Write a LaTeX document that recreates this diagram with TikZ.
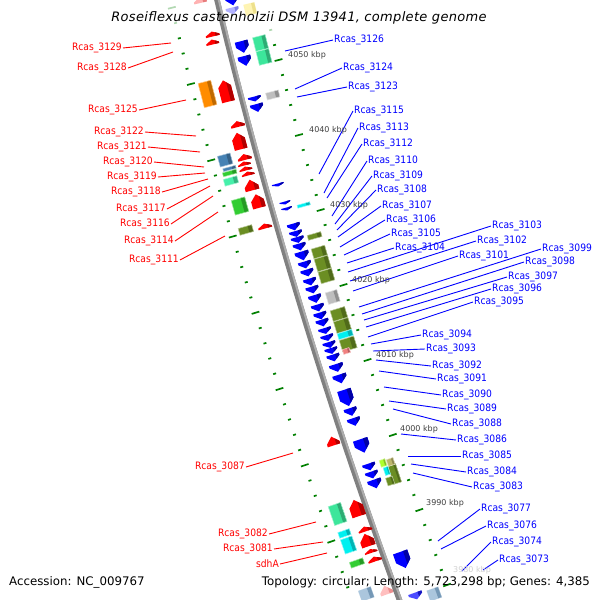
\documentclass[tikz,border=0pt]{standalone}
\usepackage{fontspec}
\setmainfont{DejaVu Sans}
\newfontfamily\lblfont{DejaVu Sans Condensed}
\usetikzlibrary{calc}

\definecolor{tkgreen}{RGB}{0,128,0}
\definecolor{spring}{RGB}{60,230,155}
\definecolor{aqua}{RGB}{70,240,170}
\definecolor{lime}{RGB}{50,205,50}
\definecolor{steel}{RGB}{70,130,180}
\definecolor{odrab}{RGB}{107,142,35}
\definecolor{gorange}{RGB}{255,140,0}
\definecolor{lgray}{RGB}{190,190,190}
\definecolor{gcyan}{RGB}{0,240,240}
\definecolor{salm}{RGB}{240,128,128}
\definecolor{ygreen}{RGB}{173,255,47}
\definecolor{gkhaki}{RGB}{189,183,107}
\definecolor{kbpgray}{RGB}{64,64,64}

\tikzset{
  pics/fwd/.style n args={3}{code={
    \pgfmathsetmacro\rh{min(0.5*#1,0.7*#2)}
    \fill[#3] (-#1/2,#2/2) -- (-#1/2,-#2/2+\rh) -- (0,-#2/2) -- (#1/2,-#2/2+\rh) -- (#1/2,#2/2) -- cycle;
    \fill[#3!70!black] (#1/5,#2/2) -- (#1/5,-#2/2+\rh*0.4) -- (#1/2,-#2/2+\rh) -- (#1/2,#2/2) -- cycle;
  }},
  pics/rev/.style n args={3}{code={
    \pgfmathsetmacro\rh{min(0.5*#1,0.7*#2)}
    \fill[#3] (-#1/2,-#2/2) -- (-#1/2,#2/2-\rh) -- (0,#2/2) -- (#1/2,#2/2-\rh) -- (#1/2,-#2/2) -- cycle;
    \fill[#3!65!black] (#1/5,-#2/2) -- (#1/5,#2/2-\rh*0.4) -- (#1/2,#2/2-\rh) -- (#1/2,-#2/2) -- cycle;
  }},
  pics/box/.style n args={3}{code={
    \fill[#3] (-#1/2,-#2/2) rectangle (#1/2,#2/2);
    \fill[#3!75!black] (#1/5,-#2/2) rectangle (#1/2,#2/2);
    \draw[#3!45!white,line width=0.5pt] (-#1/2,-#2/2) rectangle (#1/2,#2/2);
  }}
}

\newcommand\gene[7][]{%
  \pgfmathsetmacro\gx{217+0.24*(#3)+0.0001*(#3)*(#3)+(#4)}%
  \pgfmathsetmacro\ga{atan(0.24+0.0002*(#3))}%
  \pic[rotate=\ga,#1] at (\gx,#3) {#2={#5}{#6}{#7}};}
\newcommand\tick[4][]{%
  \pgfmathsetmacro\tx{217+0.24*(#2)+0.0001*(#2)*(#2)+(#3)}%
  \pgfmathsetmacro\ta{atan(0.24+0.0002*(#2))}%
  \draw[tk,#1,rotate around={\ta:(\tx,#2)}] (\tx-#4/2,#2) -- (\tx+#4/2,#2);}

\begin{document}
\begin{tikzpicture}[x=1pt,y=-1pt,
  tk/.style={tkgreen,line width=1.7pt},
  rl/.style={font=\lblfont\fontsize{10.2}{12}\selectfont,text=red,anchor=east,inner sep=1pt},
  bl/.style={font=\lblfont\fontsize{10.2}{12}\selectfont,text=blue,anchor=west,inner sep=1pt},
  rline/.style={red,line width=0.9pt},
  bline/.style={blue,line width=0.9pt},
  kbp/.style={font=\fontsize{8}{9}\selectfont,text=kbpgray,anchor=west,inner sep=0pt}]
\clip (0,0) rectangle (600,600);
\fill[white] (0,0) rectangle (600,600);

\foreach \k in {-5,...,34}{
  \pgfmathsetmacro\ty{84+15.25*\k}
  \pgfmathtruncatemacro\m{mod(\k+50,5)}
  \pgfmathsetmacro\op{\ty<30 ? 0.3 : 1}
  \ifnum\m=0 \tick[opacity=\op]{\ty}{-47}{8}\else\tick[opacity=\op]{\ty}{-47}{3}\fi
}
\foreach \k in {-2,...,35}{
  \pgfmathsetmacro\ty{60+15*\k}
  \pgfmathsetmacro\tdx{46+0.012*\ty}
  \pgfmathtruncatemacro\m{mod(\k+50,5)}
  \pgfmathsetmacro\op{\ty<35 ? 0.3 : 1}
  \ifnum\m=0 \tick[opacity=\op]{\ty}{\tdx}{8}\else\tick[opacity=\op]{\ty}{\tdx}{3}\fi
}

\draw[line width=5.5pt,black!50] plot[domain=-5:605,samples=40,variable=\t] ({217+0.24*\t+0.0001*\t*\t},\t);
\draw[line width=2pt,black!32] plot[domain=-5:605,samples=40,variable=\t] ({218.8+0.24*\t+0.0001*\t*\t},\t);

\gene[opacity=0.3]{fwd}{0}{-17}{13}{6}{red}
\gene{rev}{1}{15}{13}{9}{blue}
\gene[opacity=0.3]{rev}{11}{13}{13}{7}{blue}
\gene[opacity=0.3]{box}{9}{31}{11}{11}{yellow!80!orange}
\gene[opacity=0.45]{box}{594}{-31}{13}{11}{steel}
\gene[opacity=0.25]{fwd}{590}{-10}{13}{9}{red}
\gene[opacity=0.7]{rev}{596}{18}{14}{7}{blue}
\gene[opacity=0.45]{box}{594}{37}{12}{11}{steel}

\foreach \y/\d/\w/\l in {34/-13/14/5, 42/-15/13/5, 91/-14/13/22, 124/-11/14/6, 141/-14/13/17,
  157/-13/14/6, 163.5/-15/13/4, 168.5/-15/13/4, 173.5/-14/13/4, 185/-14/14/11, 201/-12/13/14,
  226/-12/14/5, 441/-11/13/9, 508/-10/14/17, 529/-9/14/5, 540/-11/14/13, 551/-11/13/4, 559/-10/14/5}
  \gene{fwd}{\y}{\d}{\w}{\l}{red};

\foreach \y/\d/\w/\l/\c in {94/-33/13/25/gorange, 160/-33/13/11/steel, 168.5/-31/13/3/steel,
  173/-32/14/4/lime, 181/-33/14/7/aqua, 206/-31/14/15/lime, 230/-32/14/7/odrab,
  514/-31/13/20/spring, 533.5/-31/12/6/gcyan, 545/-31/12/15/gcyan, 563/-29/14/6/lime,
  43/33/13/14/spring, 57/33/13/14/spring, 95/32/13/7/lgray, 205/33/13/3/gcyan, 236/35/14/5/odrab,
  252/35/14/10/odrab, 263.5/35/14/13/odrab, 276/35/14/12/odrab, 297/35/12/12/lgray,
  314/36/15/11/odrab, 325.5/36/15/12/odrab, 334.5/36/15/6/gcyan, 344/36/15/12/odrab, 351/32/7/5/salm,
  474/40/8/19/odrab, 481/33/7/8/odrab, 471/33/5/8/gcyan, 463/32/6/7/ygreen, 462/40/7/7/gkhaki}
  \gene{box}{\y}{\d}{\w}{\l}{\c};

\foreach \y/\d/\w/\l in {47/14/13/12, 61/13/13/10, 99/13/13/5, 108/13/13/8, 185/13/12/3,
  203/15/11/3, 209/15/11/3, 560/18/15/17}
  \gene{rev}{\y}{\d}{\w}{\l}{blue};
\foreach \y/\w/\l in {227/13/7, 234/13/6, 240/13/6, 247/13/7, 256/14/9, 265/13/7, 273/13/7,
  282/13/7, 290/13/7, 299/13/8, 308/13/7, 316/13/7, 323/13/7, 331/13/6, 338/13/6, 345/13/6,
  351/13/6, 358/13/7, 368/14/8, 379/14/9, 398/14/17, 412/13/8, 422/13/8, 446/15/14, 467/13/7,
  475/13/7, 484/14/9}
  \gene{rev}{\y}{17}{\w}{\l}{blue};

\foreach \n/\lx/\ly/\ex/\ey in {3129/123/48/171/43, 3128/128/68/173/52, 3125/139/110/186/100,
  3122/145/132/196/136, 3121/148/147/200/152, 3120/154/162/204/167, 3119/158/177/205/173,
  3118/162/192/208/179, 3117/167/209/210/186, 3116/171/224/213/196, 3114/175/241/218/212,
  3111/180/260/225/236, 3087/246/467/293/453, 3082/269/534/316/522, 3081/274/549/323/542}{
  \node[rl] (r\n) at (\lx,\ly) {Rcas\_\n};
  \coordinate (er\n) at (\ex,\ey);
  \draw[rline] (r\n.east) -- (er\n);
}
\node[rl] (rsdhA) at (280,564) {sdhA};
\coordinate (ersdhA) at (327,553);
\draw[rline] (rsdhA.east) -- (ersdhA);

\foreach \n/\lx/\ly/\ex/\ey in {3126/333/40/285/51, 3124/342/68/295/89, 3123/347/87/297/97,
  3115/353/111/319/174, 3113/358/128/324/193, 3112/362/144/327/198, 3110/367/161/332/216,
  3109/372/176/335/224, 3108/376/190/337/230, 3107/381/206/338/237, 3106/385/220/340/247,
  3105/390/234/344/255, 3104/394/248/347/263, 3103/491/226/348/272, 3102/476/241/350/281,
  3101/458/256/353/291, 3099/541/249/359/307, 3098/524/262/362/314, 3097/507/277/364/320,
  3096/491/289/366/327, 3095/473/302/368/337, 3094/421/335/371/344, 3093/425/349/373/351,
  3092/431/366/376/360, 3091/436/379/379/371, 3090/441/395/384/387, 3089/446/409/389/401,
  3088/451/424/393/409, 3086/456/440/401/434, 3085/461/456/408/456, 3084/466/472/411/464,
  3083/472/487/413/473, 3077/480/509/438/541, 3076/486/526/441/549, 3074/491/542/462/571,
  3073/498/560/483/570}{
  \node[bl] (b\n) at (\lx,\ly) {Rcas\_\n};
  \coordinate (eb\n) at (\ex,\ey);
  \draw[bline] (b\n.west) -- (eb\n);
}

\foreach \t/\x/\y in {4050/288/55, 4040/309/130, 4030/330/205, 4020/352/280, 4010/376/355,
  4000/400/429, 3990/426/503}
  \node[kbp] (k\t) at (\x,\y) {\t{} kbp};
\node[kbp,text=black!18] (k3980) at (453,570) {3980 kbp};

\node[font=\fontsize{13}{15}\selectfont\itshape\addfontfeatures{LetterSpace=2.5}] (title) at (299,18) {Roseiflexus castenholzii DSM 13941, complete genome};
\node[anchor=west,font=\fontsize{11.8}{14}\selectfont,inner sep=0pt] (acc) at (9,582) {Accession: NC\_009767};
\node[anchor=east,font=\fontsize{11.8}{14}\selectfont,inner sep=0pt] (topo) at (590,582) {Topology: circular; Length: 5,723,298 bp; Genes: 4,385};
\end{tikzpicture}
\end{document}
